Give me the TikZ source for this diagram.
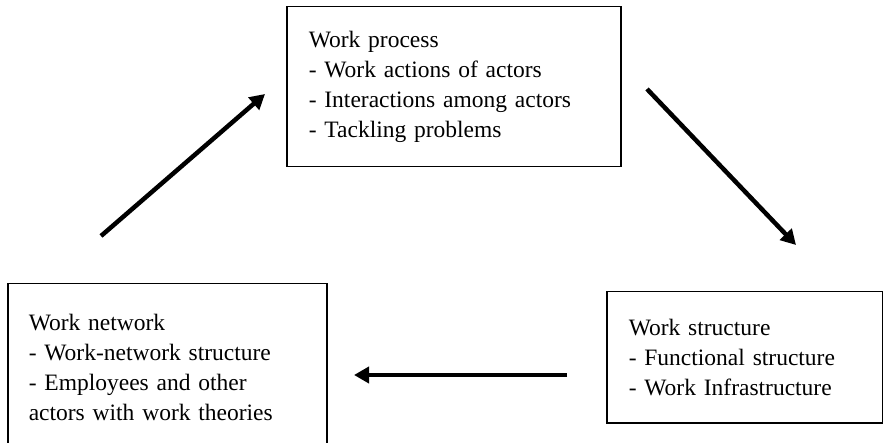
\documentclass[tikz,border=0pt]{standalone}
\usepackage{fontspec}
\setmainfont{Liberation Serif}
\usepackage{tikz}
\usetikzlibrary{arrows.meta, positioning}

\begin{document}
\begin{tikzpicture}[
    x=1pt, y=-1pt,
    box/.style={draw, line width=1.5pt, anchor=north west, align=left, inner ysep=0pt, font=\fontsize{23.5}{30}\selectfont},
    arrow/.style={-{Triangle[length=15pt, width=16pt]}, line width=4.5pt}
]
    \useasboundingbox (0,0) rectangle (883,443);
    \clip (0,0) rectangle (883,443);

    % Three stages of work
    \node[box, inner xsep=22pt, text width=290pt, minimum width=334pt, minimum height=160pt] (process) at (286,6) {Work process\\- Work actions of actors\\- Interactions among actors\\- Tackling problems};
    \node[box, inner xsep=22pt, text width=232pt, minimum width=276pt, minimum height=131pt] (structure) at (606,291) {Work structure\\- Functional structure\\- Work Infrastructure};
    \node[box, inner xsep=21pt, text width=277pt, minimum width=319pt, minimum height=167pt] (network) at (7,283) {Work network\\- Work-network structure\\- Employees and other\\actors with work theories};

    % Arrow ends
    \coordinate (netout) at (101,236);
    \coordinate (procin) at (265,94);
    \coordinate (procout) at (647,89);
    \coordinate (structin) at (796,245);
    \coordinate (structout) at (567,375);
    \coordinate (netin) at (354,375);

    % Cycle
    \draw[arrow] (netout) -- (procin);
    \draw[arrow] (procout) -- (structin);
    \draw[arrow] (structout) -- (netin);
\end{tikzpicture}
\end{document}
